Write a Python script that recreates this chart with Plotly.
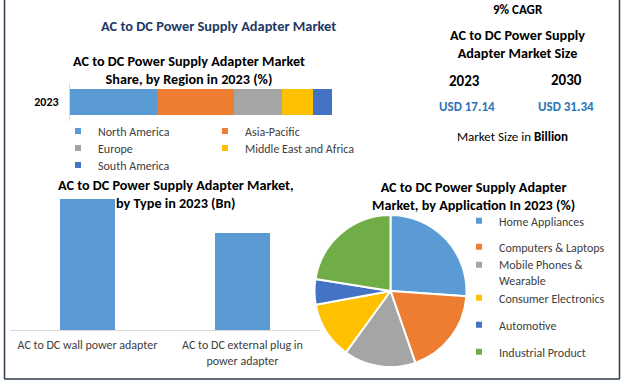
import plotly.graph_objects as go

W, H = 623, 384
def fx(p): return p / W
def fy(p): return 1 - p / H

FONT = "Carlito, Calibri, Lato, sans-serif"

# ---------------- data ----------------
region_year = ["2023"]
regions = ["North America", "Asia-Pacific", "Europe", "Middle East and Africa", "South America"]
region_share = [33.4, 29.2, 18.5, 11.7, 7.2]
region_colors = ["#5B9BD5", "#ED7D31", "#A5A5A5", "#FFC000", "#4472C4"]

types = ["AC to DC wall power adapter", "AC to DC external plug in<br>power adapter"]
type_values = [9.85, 7.29]
type_color = "#5B9BD5"

applications = ["Home Appliances", "Computers & Laptops", "Mobile Phones & Wearable",
                "Consumer Electronics", "Automotive", "Industrial Product"]
app_share = [26.1, 18.6, 15.3, 12.1, 5.4, 22.5]
app_colors = ["#5B9BD5", "#ED7D31", "#A5A5A5", "#FFC000", "#4472C4", "#70AD47"]

size_years = ["2023", "2030"]
size_values = ["USD 17.14", "USD 31.34"]
cagr = "9% CAGR"

fig = go.Figure()

# ---------------- region stacked bar ----------------
for r, v, c in zip(regions, region_share, region_colors):
    fig.add_trace(go.Bar(y=region_year, x=[v], name=r, orientation="h",
                         marker=dict(color=c, line=dict(width=0)), width=0.66,
                         showlegend=False, xaxis="x", yaxis="y"))

# legend entries for regions (2-column grid)
reg_leg_pos = [(58, 131), (205, 131), (58, 148), (205, 148), (58, 165)]
legends = {}
k = 1
for r, c, (lx, ly) in zip(regions, region_colors, reg_leg_pos):
    name = "legend" if k == 1 else f"legend{k}"
    fig.add_trace(go.Scatter(x=[None], y=[None], mode="markers", name=r,
                             marker=dict(symbol="square", size=6, color=c),
                             legend=name, showlegend=True, hoverinfo="skip",
                             xaxis="x2", yaxis="y2"))
    legends[name] = dict(x=fx(lx), y=fy(ly), xanchor="left", yanchor="middle",
                         bgcolor="rgba(0,0,0,0)", borderwidth=0, itemwidth=30,
                         font=dict(family=FONT, size=12, color="#404040"))
    k += 1

# ---------------- type bar chart ----------------
fig.add_trace(go.Bar(x=types, y=type_values, marker=dict(color=type_color, line=dict(width=0)),
                     width=0.355, showlegend=False, xaxis="x2", yaxis="y2"))

# ---------------- application pie ----------------
fig.add_trace(go.Pie(labels=applications, values=app_share, sort=False, direction="clockwise",
                     rotation=0, marker=dict(colors=app_colors, line=dict(color="white", width=2)),
                     textinfo="none", showlegend=False,
                     domain=dict(x=[fx(314.5), fx(466.5)], y=[fy(367), fy(215)])))

pie_leg_y = [221, 247, 273, 298, 325, 352]
for a, c, ly in zip(applications, app_colors, pie_leg_y):
    name = f"legend{k}"
    label = a.replace(" Wearable", "<br>Wearable")
    fig.add_trace(go.Scatter(x=[None], y=[None], mode="markers", name=label,
                             marker=dict(symbol="square", size=6, color=c),
                             legend=name, showlegend=True, hoverinfo="skip",
                             xaxis="x2", yaxis="y2"))
    legends[name] = dict(x=fx(459), y=fy(ly), xanchor="left", yanchor="middle",
                         bgcolor="rgba(0,0,0,0)", borderwidth=0, itemwidth=30, valign="top",
                         font=dict(family=FONT, size=12, color="#404040"))
    k += 1

# ---------------- annotations ----------------
ann = []
def txt(t, x, y, size, color="#000000", bold=True):
    ann.append(dict(text=f"<b>{t}</b>" if bold else t, x=fx(x), y=fy(y), xref="paper", yref="paper",
                    showarrow=False, xanchor="center", yanchor="middle",
                    font=dict(family=FONT, size=size, color=color)))

txt("AC to DC Power Supply Adapter Market", 218, 26, 14.4, "#1F3864")
txt("AC to DC Power Supply Adapter Market<br>Share, by Region in 2023 (%)", 189, 70, 14.2)
txt("AC to DC Power Supply Adapter Market,<br>by Type in 2023 (Bn)", 176, 194, 14.2)
txt("AC to DC Power Supply Adapter<br>Market, by Application In 2023 (%)", 473, 196, 14.2)
txt(cagr, 518, 10, 13)
txt("AC to DC Power Supply<br>Adapter Market Size", 517, 44, 14.2)
txt(size_years[0], 464, 81, 15)
txt(size_years[1], 566, 80, 15)
txt(size_values[0], 467, 107, 13, "#2E75B6")
txt(size_values[1], 566, 106, 13, "#2E75B6")
txt("Market Size in <b>Billion</b>", 512, 136, 13, bold=False)

shapes = [
    dict(type="line", xref="paper", yref="paper", x0=fx(4.5), x1=fx(4.5), y0=fy(-2), y1=fy(379),
         line=dict(color="#2F3B4C", width=1.5)),
    dict(type="line", xref="paper", yref="paper", x0=fx(619.5), x1=fx(619.5), y0=fy(-2), y1=fy(379),
         line=dict(color="#2F3B4C", width=1.5)),
    dict(type="line", xref="paper", yref="paper", x0=fx(4.5), x1=fx(619.5), y0=fy(379), y1=fy(379),
         line=dict(color="#2F3B4C", width=1.5)),
]

layout = dict(
    width=W, height=H, margin=dict(l=0, r=0, t=0, b=0),
    paper_bgcolor="white", plot_bgcolor="rgba(0,0,0,0)",
    barmode="stack",
    font=dict(family=FONT, color="#404040"),
    xaxis=dict(domain=[fx(70), fx(332)], range=[0, 100], visible=False, anchor="y", fixedrange=True),
    yaxis=dict(domain=[fy(121), fy(83)], type="category", anchor="x", showline=True,
               linecolor="#D9D9D9", linewidth=1, ticks="", showgrid=False, zeroline=False,
               tickfont=dict(family=FONT, size=12, color="#000000"), ticklabelstandoff=8,
               tickprefix="<b>", ticksuffix="</b>"),
    xaxis2=dict(domain=[fx(10), fx(320)], type="category", anchor="y2", showline=True,
                linecolor="#D9D9D9", linewidth=1, ticks="", showgrid=False, zeroline=False,
                tickfont=dict(family=FONT, size=12, color="#404040"), ticklabelstandoff=4,
                tickangle=0),
    yaxis2=dict(domain=[fy(330), fy(170.4)], range=[0, 12], visible=False, anchor="x2"),
    annotations=ann,
    shapes=shapes,
)
layout.update(legends)
fig.update_layout(**layout)

fig.write_html("out.html", config={"displayModeBar": False},
               post_script="document.body.style.margin='0px';")
